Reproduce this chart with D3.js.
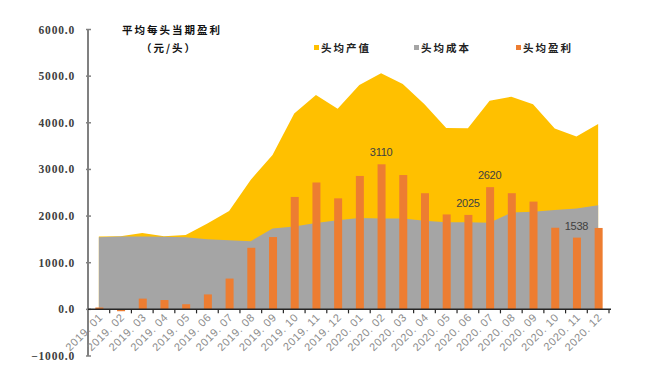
<!DOCTYPE html>
<html>
<head>
<meta charset="utf-8">
<script src="https://cdn.jsdelivr.net/npm/d3@7"></script>
<style>
  body { margin: 0; background: #fff; }
  svg { display: block; }
</style>
</head>
<body>
<div id="chart"></div>
<script>
// 头均产值 / 头均成本 / 头均盈利, 2019.01 - 2020.12
const months = ["2019.01", "2019.02", "2019.03", "2019.04", "2019.05", "2019.06",
  "2019.07", "2019.08", "2019.09", "2019.10", "2019.11", "2019.12",
  "2020.01", "2020.02", "2020.03", "2020.04", "2020.05", "2020.06",
  "2020.07", "2020.08", "2020.09", "2020.10", "2020.11", "2020.12"];
const revenue = [1560, 1565, 1635, 1570, 1595, 1840, 2110, 2780, 3310, 4200, 4595, 4300,
  4810, 5060, 4830, 4400, 3890, 3885, 4475, 4560, 4395, 3880, 3705, 3975];
const cost = [1545, 1560, 1560, 1555, 1545, 1505, 1480, 1462, 1735, 1775, 1850, 1910,
  1960, 1950, 1950, 1900, 1870, 1865, 1855, 2075, 2090, 2130, 2160, 2230];
const profit = [40, -40, 230, 200, 110, 320, 660, 1320, 1550, 2410, 2720, 2380,
  2860, 3110, 2880, 2490, 2035, 2025, 2620, 2490, 2310, 1750, 1538, 1745];
const labeledMonths = ["2020.02", "2020.06", "2020.07", "2020.11"];
const yTicks = [-1000, 0, 1000, 2000, 3000, 4000, 5000, 6000];
const seriesNames = ["头均产值", "头均成本", "头均盈利"];

const width = 650, height = 377;
const colors = ["#FFC000", "#A5A5A5", "#ED7D31"];

const svg = d3.select("#chart").append("svg")
  .attr("width", width)
  .attr("height", height);

const x = d3.scaleBand().domain(months).range([88, 609]);
const y = d3.scaleLinear().domain([-1000, 6000]).range([356, 29.5]);
const cx = d => x(d) + x.bandwidth() / 2;

// areas: revenue behind, cost on top
const area = vals => d3.area()
  .x((d, i) => cx(months[i]))
  .y0(y(0))
  .y1(d => y(d))(vals);

svg.append("path").attr("d", area(revenue)).attr("fill", colors[0]);
svg.append("path").attr("d", area(cost)).attr("fill", colors[1]);

// profit bars
const barW = 8;
svg.selectAll("rect.bar")
  .data(profit)
  .join("rect")
  .attr("class", "bar")
  .attr("x", (d, i) => cx(months[i]) - barW / 2 + 0.5)
  .attr("y", d => y(Math.max(0, d)))
  .attr("width", barW)
  .attr("height", d => Math.abs(y(d) - y(0)))
  .attr("fill", colors[2]);

// data labels
svg.selectAll("text.dl")
  .data(labeledMonths)
  .join("text")
  .attr("class", "dl")
  .attr("x", d => cx(d))
  .attr("y", d => y(profit[months.indexOf(d)]) - 8)
  .attr("text-anchor", "middle")
  .attr("font-family", "Liberation Sans, Arial, sans-serif")
  .attr("font-size", 11)
  .attr("letter-spacing", -0.3)
  .attr("fill", "#404040")
  .text(d => profit[months.indexOf(d)]);

// y axis
const yAxis = svg.append("g");
yAxis.append("line")
  .attr("x1", 88).attr("x2", 88)
  .attr("y1", y(6000)).attr("y2", y(-1000))
  .attr("stroke", "#808080").attr("stroke-width", 2);
yAxis.selectAll("line.tk")
  .data(yTicks)
  .join("line")
  .attr("class", "tk")
  .attr("x1", 86).attr("x2", 91)
  .attr("y1", d => y(d)).attr("y2", d => y(d))
  .attr("stroke", "#808080").attr("stroke-width", 1.5);
yAxis.selectAll("text")
  .data(yTicks)
  .join("text")
  .attr("x", 75)
  .attr("y", d => y(d))
  .attr("dy", "0.35em")
  .attr("text-anchor", "end")
  .attr("font-family", "Liberation Serif, serif")
  .attr("font-weight", "bold")
  .attr("font-size", 11.5)
  .attr("letter-spacing", 0.8)
  .attr("fill", "#404040")
  .text(d => d3.format(".1f")(d));

// x axis at zero
const xAxis = svg.append("g");
xAxis.append("line")
  .attr("x1", 88).attr("x2", 611)
  .attr("y1", y(0)).attr("y2", y(0))
  .attr("stroke", "#262626").attr("stroke-width", 1.5);
xAxis.selectAll("line.tk")
  .data(months.slice(1).concat(["end"]))
  .join("line")
  .attr("class", "tk")
  .attr("x1", (d, i) => 88 + (i + 1) * x.bandwidth())
  .attr("x2", (d, i) => 88 + (i + 1) * x.bandwidth())
  .attr("y1", y(0)).attr("y2", y(0) + 4)
  .attr("stroke", "#262626").attr("stroke-width", 1.2);
xAxis.selectAll("text")
  .data(months)
  .join("text")
  .attr("transform", d => `translate(${cx(d) + 2},${y(0) + 6}) rotate(-45)`)
  .attr("text-anchor", "end")
  .attr("dy", "0.35em")
  .attr("font-family", "Liberation Sans, Arial, sans-serif")
  .attr("font-size", 11)
  .attr("letter-spacing", 0.6)
  .attr("fill", "#8c8c8c")
  .text(d => d.replace(".", ". "));

// title
const title = svg.append("text")
  .attr("font-family", "Noto Sans CJK SC, sans-serif")
  .attr("font-weight", "bold")
  .attr("font-size", 10.5)
  .attr("letter-spacing", 2)
  .attr("fill", "#111");
title.append("tspan").attr("x", 122).attr("y", 34).text("平均每头当期盈利");
title.append("tspan").attr("x", 141).attr("y", 52).text("（元/头）");

// legend
const lx = [314, 414, 516];
const legend = svg.selectAll("g.lg")
  .data(seriesNames)
  .join("g")
  .attr("class", "lg")
  .attr("transform", (d, i) => `translate(${lx[i]},48)`);
legend.append("rect")
  .attr("x", 0).attr("y", -3)
  .attr("width", 5).attr("height", 5)
  .attr("fill", (d, i) => colors[i]);
legend.append("text")
  .attr("x", 7)
  .attr("dy", "0.35em")
  .attr("font-family", "Noto Sans CJK SC, sans-serif")
  .attr("font-weight", "bold")
  .attr("font-size", 10.5)
  .attr("letter-spacing", 2)
  .attr("fill", "#222")
  .text(d => d);
</script>
</body>
</html>
